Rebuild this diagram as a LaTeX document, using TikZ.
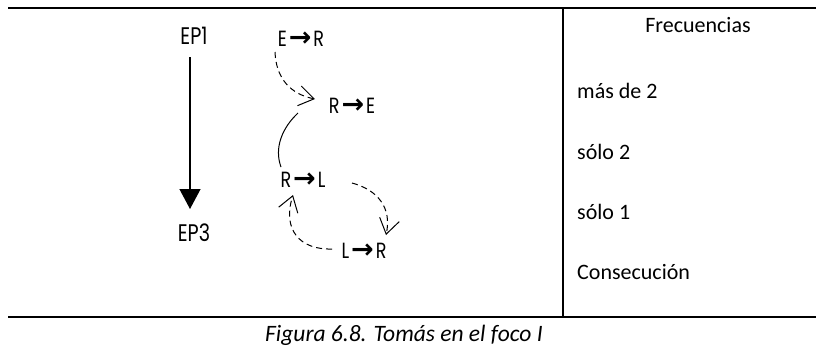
\documentclass[tikz,border=0pt]{standalone}
\usepackage{fontspec}
\setmainfont{Carlito}
\newfontfamily\labfont[FakeStretch=0.8]{Poppins}
\newfontfamily\symfont{DejaVu Sans}
\usetikzlibrary{arrows.meta}
\newcommand{\ar}{\kern2pt{\symfont\bfseries\fontsize{27}{28}\selectfont →}\kern2pt}
\tikzset{
  lab/.style={font=\labfont\fontsize{22}{24}\selectfont, inner sep=0pt},
  eplab/.style={font=\labfont\fontsize{24}{26}\selectfont, inner sep=0pt},
  col/.style={font=\fontsize{22}{24}\selectfont, inner sep=0pt, anchor=west},
  rule/.style={line width=2pt},
  dasharrow/.style={dashed, dash pattern=on 6pt off 4pt, line width=1pt, -{Straight Barb[length=15pt,width=20pt,line width=1pt]}},
}
\begin{document}
\begin{tikzpicture}[x=1pt,y=-1pt]
\useasboundingbox (0,0) rectangle (816,349);
% table rules
\coordinate (tl) at (8,8);
\coordinate (tr) at (816,8);
\coordinate (bl) at (8,317);
\coordinate (br) at (816,317);
\coordinate (vt) at (563,8);
\coordinate (vb) at (563,317);
\draw[rule] (tl) -- (tr);
\draw[rule] (bl) -- (br);
\draw[line width=1.6pt] (vt) -- (vb);
% left labels
\node[eplab] (ep1) at (194,36) {EP1};
\node[eplab] (ep3) at (194,233) {EP3};
\coordinate (a1) at (190,57);
\coordinate (a2) at (190,209);
\draw[line width=1.2pt, -{Triangle[length=20pt,width=21pt]}] (a1) -- (a2);
% transitions
\node[lab] (er) at (301,39) {E\ar R};
\node[lab] (re) at (352,106) {R\ar E};
\node[lab] (rl) at (303,180) {R\ar L};
\node[lab] (lr) at (364,251) {L\ar R};
\coordinate (c1s) at (275,52);
\coordinate (c1e) at (315,99);
\draw[dasharrow] (c1s) .. controls (276,78) and (290,94) .. (c1e);
\coordinate (c2s) at (298,113);
\coordinate (c2e) at (281,167);
\draw[line width=1pt] (c2s) .. controls (282,128) and (274,148) .. (c2e);
\coordinate (c3s) at (352,183);
\coordinate (c3e) at (386,235);
\draw[dasharrow] (c3s) .. controls (378,190) and (392,208) .. (c3e);
\coordinate (c4s) at (332,249);
\coordinate (c4e) at (293,195);
\draw[dasharrow] (c4s) .. controls (300,250) and (282,230) .. (c4e);
% right column
\node[font=\fontsize{22}{24}\selectfont, inner sep=0pt] (fr) at (698,25) {Frecuencias};
\node[col] (m2) at (577,91) {más de 2};
\node[col] (s2) at (577,152) {sólo 2};
\node[col] (s1) at (577,212) {sólo 1};
\node[col] (co) at (577,272) {Consecución};
% caption
\node[font=\itshape\fontsize{23.5}{26}\selectfont, inner sep=0pt] (cap) at (404,335) {Figura 6.8. Tomás en el foco I};
\end{tikzpicture}
\end{document}
